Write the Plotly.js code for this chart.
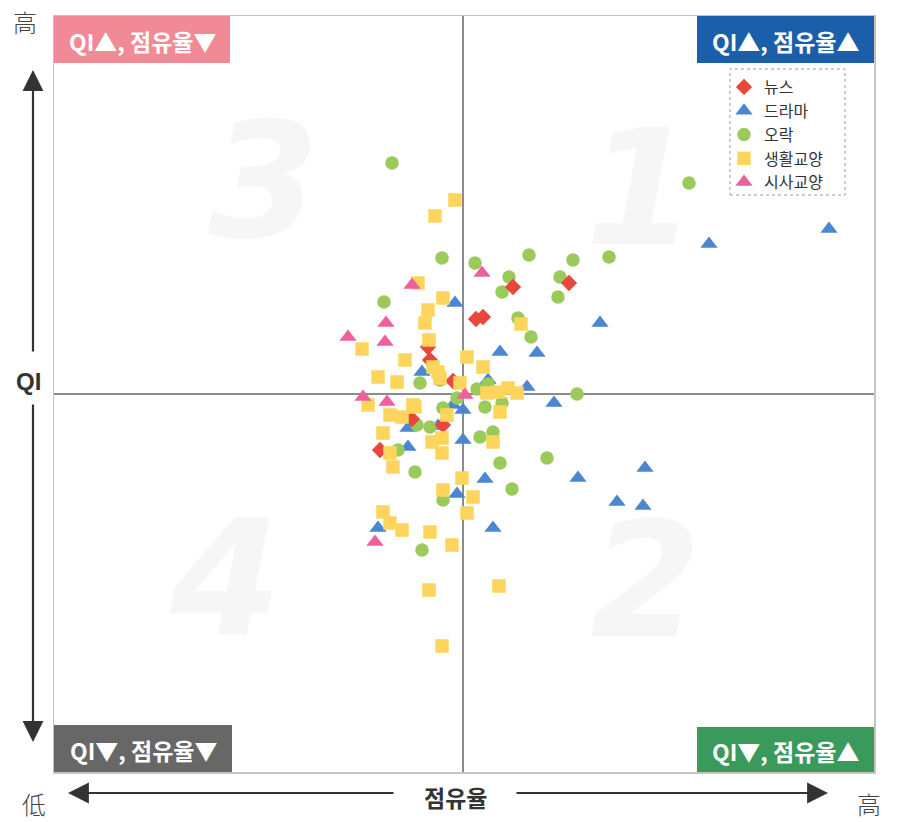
<!DOCTYPE html>
<html>
<head>
<meta charset="utf-8">
<script src="https://cdn.plot.ly/plotly-3.0.1.min.js"></script>
<style>
html,body{margin:0;padding:0;background:#fff;}
#chart{width:916px;height:822px;}
</style>
</head>
<body>
<div id="chart"></div>
<script>
// Data: x = 점유율 deviation, y = QI deviation (relative units)
const newsX = [50, 106, 13, 20, -35, -33, -10, -51, -20, -83];
const newsY = [107, 111, 75, 77, 47, 34, 13, -25, -31, -56];

const dramaX = [366, 246, 137, -8, 37, 74, 64, 91, 25, -41, 0, -10, -55, -25, 0, -55, -6, 22, -85, 115, 182, 154, 180, 30];
const dramaY = [165, 150, 71, 91, 42, 41, 7, -9, 14, 22, -16, -11, -34, -32, -46, -53, -100, -85, -134, -84, -74, -108, -112, -134];

const orakX = [-71, 226, -21, 12, 66, 110, 146, 46, 97, -79, 95, 39, 55, 68, 114, 14, 25, 39, 22, -43, -23, -6, -20, -46, -33, 17, 30, -65, -48, -20, -41, 37, 84, 49];
const orakY = [231, 211, 136, 131, 139, 134, 137, 117, 117, 92, 97, 102, 76, 57, 0, 5, 10, -9, -13, 11, 14, -4, -14, -31, -33, -43, -38, -56, -78, -106, -156, -69, -64, -95];

const lifeX = [-8, -28, -45, -20, -35, -38, -34, -101, -58, -85, -66, -25, -30, -23, 4, 58, 20, -3, 35, 45, 54, 24, 37, -95, -50, -73, -61, -48, -16, -80, -31, -21, -21, -73, -70, -1, -20, 10, 4, -80, -73, -61, -33, -11, -34, 36, -21, 30];
const lifeY = [194, 178, 111, 96, 84, 71, 54, 45, 34, 17, 12, 22, 27, 16, 37, 70, 27, 11, 2, 6, 1, 1, -18, -11, -11, -21, -23, -13, -21, -39, -48, -44, -59, -59, -73, -84, -96, -103, -119, -118, -129, -136, -138, -151, -196, -192, -252, -48];

const currX = [-51, 19, -115, -77, -78, -100, -76, 2, -88];
const currY = [109, 121, 57, 71, 52, -3, -8, -1, -148];

const seriesNames = ['뉴스', '드라마', '오락', '생활교양', '시사교양'];
const quadLabels = ['QI▲, 점유율▼', 'QI▲, 점유율▲', 'QI▼, 점유율▼', 'QI▼, 점유율▲'];
const quadNumbers = ['3', '1', '4', '2'];
const axisLabelX = '점유율';
const axisLabelY = 'QI';
const highLabel = '高';
const lowLabel = '低';

// Layout helpers (pixel -> paper)
const L = 54, R = 874, T = 16, B = 772;
const px = p => (p - L) / (R - L);
const py = p => (B - p) / (B - T);

const KR = '"Noto Sans CJK KR", "Noto Sans", sans-serif';

function tr(x, y, name, symbol, color, size, rank) {
  return {
    type: 'scatter', mode: 'markers', x: x, y: y, name: name,
    marker: {symbol: symbol, color: color, size: size, line: {width: 0}},
    legendrank: rank, hoverinfo: 'x+y+name'
  };
}

const data = [
  tr(dramaX, dramaY, seriesNames[1], 'triangle-up', '#4a86d1', 15, 2),
  tr(orakX, orakY, seriesNames[2], 'circle', '#9acb5a', 13.5, 3),
  tr(newsX, newsY, seriesNames[0], 'diamond', '#e8473b', 12.5, 1),
  tr(lifeX, lifeY, seriesNames[3], 'square', '#fdd45c', 13.5, 4),
  tr(currX, currY, seriesNames[4], 'triangle-up', '#ee5f9c', 15, 5)
];

const boxes = [
  {x0: 54, x1: 230, y0: 16, y1: 63, c: '#f28a96'},
  {x0: 697, x1: 874, y0: 16, y1: 63, c: '#1b5ea9'},
  {x0: 54, x1: 232, y0: 725, y1: 772, c: '#676767'},
  {x0: 697, x1: 874, y0: 727, y1: 772, c: '#3a9a5c'}
];

const shapes = [];
const annotations = [];

// background quadrant numbers
const numPos = [[263, 182], [640, 188], [225, 578], [645, 580]];
numPos.forEach((p, i) => {
  annotations.push({
    xref: 'paper', yref: 'paper', x: px(p[0]), y: py(p[1]), xanchor: 'center', yanchor: 'middle',
    text: '<b>' + quadNumbers[i] + '</b>', showarrow: false,
    font: {family: 'DejaVu Sans, sans-serif', size: 160, color: '#f6f6f6', style: 'italic'}
  });
});

boxes.forEach((b, i) => {
  shapes.push({type: 'rect', xref: 'paper', yref: 'paper', x0: px(b.x0), x1: px(b.x1), y0: py(b.y1), y1: py(b.y0),
    fillcolor: b.c, line: {width: 0}, layer: 'above'});
  annotations.push({
    xref: 'paper', yref: 'paper', x: px((b.x0 + b.x1) / 2), y: py((b.y0 + b.y1) / 2 + 1),
    xanchor: 'center', yanchor: 'middle', showarrow: false, text: '<b>' + quadLabels[i] + '</b>',
    font: {family: KR, size: 23, color: '#ffffff'}
  });
});

// legend dotted box
shapes.push({type: 'rect', xref: 'paper', yref: 'paper', x0: px(730), x1: px(845), y0: py(195), y1: py(69),
  fillcolor: 'rgba(255,255,255,0)', line: {color: '#999', width: 1, dash: 'dot'}, layer: 'above'});

// axis arrows
const arrowColor = '#333333';
function arrow(tipX, tipY, tailX, tailY) {
  annotations.push({
    xref: 'paper', yref: 'paper', x: px(tipX), y: py(tipY), ax: tailX - tipX, ay: tailY - tipY,
    axref: 'pixel', ayref: 'pixel', text: '', showarrow: true,
    arrowhead: 2, arrowsize: 1.9, arrowwidth: 2.2, arrowcolor: arrowColor
  });
}
arrow(33, 70, 33, 353);
arrow(33, 742, 33, 403);
arrow(68, 793, 395, 793);
arrow(828, 793, 515, 793);

annotations.push({xref: 'paper', yref: 'paper', x: px(28), y: py(382), xanchor: 'center', yanchor: 'middle',
  text: '<b>' + axisLabelY + '</b>', showarrow: false, font: {family: 'Liberation Sans, Arial, sans-serif', size: 24, color: '#333'}});
annotations.push({xref: 'paper', yref: 'paper', x: px(455), y: py(797), xanchor: 'center', yanchor: 'middle',
  text: '<b>' + axisLabelX + '</b>', showarrow: false, font: {family: KR, size: 23, color: '#333'}});

const cjkFont = {family: '"Noto Sans CJK TC", sans-serif', size: 24, color: '#444', weight: 300};
annotations.push({xref: 'paper', yref: 'paper', x: px(25), y: py(22), xanchor: 'center', yanchor: 'middle',
  text: highLabel, showarrow: false, font: cjkFont});
annotations.push({xref: 'paper', yref: 'paper', x: px(34), y: py(803), xanchor: 'center', yanchor: 'middle',
  text: lowLabel, showarrow: false, font: cjkFont});
annotations.push({xref: 'paper', yref: 'paper', x: px(869), y: py(803), xanchor: 'center', yanchor: 'middle',
  text: highLabel, showarrow: false, font: cjkFont});

const layout = {
  width: 916, height: 822,
  margin: {l: L, r: 916 - R, t: T, b: 822 - B, pad: 0},
  paper_bgcolor: '#ffffff', plot_bgcolor: '#ffffff',
  showlegend: true,
  legend: {
    x: px(724), y: py(70), xanchor: 'left', yanchor: 'top',
    bgcolor: 'rgba(255,255,255,0)', borderwidth: 0,
    font: {family: KR, size: 16, color: '#333'},
    itemwidth: 30, tracegroupgap: 0
  },
  xaxis: {
    range: [-409, 411], showgrid: false, showticklabels: false, ticks: '',
    zeroline: true, zerolinecolor: '#8c8c8c', zerolinewidth: 2.2,
    showline: true, mirror: true, linecolor: '#c4c4c4', linewidth: 1.5, fixedrange: true
  },
  yaxis: {
    range: [-378, 378], showgrid: false, showticklabels: false, ticks: '',
    zeroline: true, zerolinecolor: '#8c8c8c', zerolinewidth: 2.2,
    showline: true, mirror: true, linecolor: '#c4c4c4', linewidth: 1.5, fixedrange: true
  },
  shapes: shapes,
  annotations: annotations
};

Plotly.newPlot('chart', data, layout, {displayModeBar: false, staticPlot: true});
</script>
</body>
</html>
